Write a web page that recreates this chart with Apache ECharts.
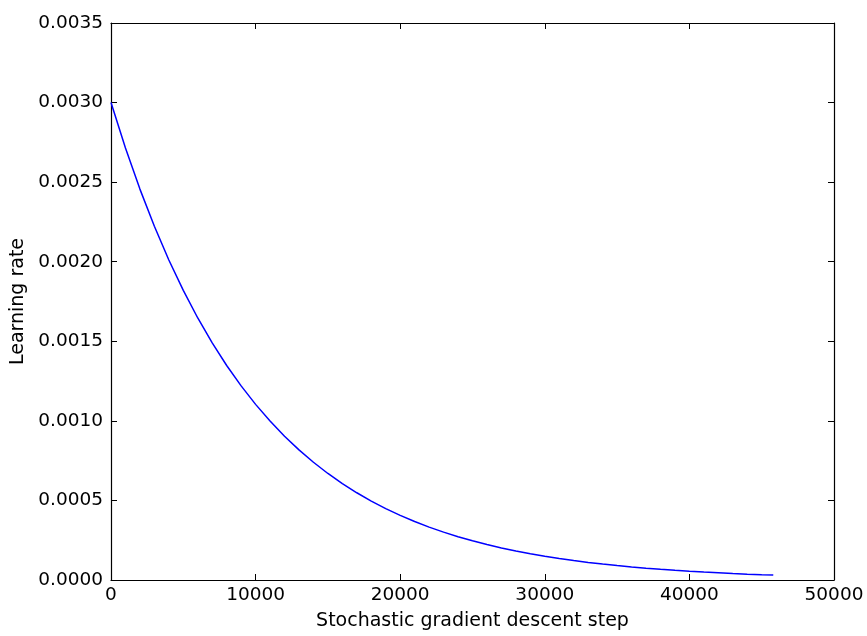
<!DOCTYPE html>
<html>
<head>
<meta charset="utf-8">
<script src="https://cdn.jsdelivr.net/npm/echarts@6/dist/echarts.min.js"></script>
<style>
  html, body { margin: 0; padding: 0; background: #fff; }
  #chart { width: 867px; height: 636px; }
</style>
</head>
<body>
<div id="chart"></div>
<script>
// values
const steps = [0, 1000, 2000, 3000, 4000, 5000, 6000, 7000, 8000, 9000,
  10000, 11000, 12000, 13000, 14000, 15000, 16000, 17000, 18000, 19000,
  20000, 21000, 22000, 23000, 24000, 25000, 26000, 27000, 28000, 29000,
  30000, 31000, 32000, 33000, 34000, 35000, 36000, 37000, 38000, 39000,
  40000, 41000, 42000, 43000, 44000, 45000, 45800]
const rates = [0.0030000, 0.0027145, 0.0024562, 0.0022225, 0.0020110, 0.0018196, 0.0016464, 0.0014898, 0.0013480, 0.0012197,
  0.0011036, 0.0009986, 0.0009036, 0.0008176, 0.0007398, 0.0006694, 0.0006057, 0.0005481, 0.0004959, 0.0004487,
  0.0004060, 0.0003674, 0.0003324, 0.0003008, 0.0002722, 0.0002463, 0.0002228, 0.0002016, 0.0001824, 0.0001651,
  0.0001494, 0.0001351, 0.0001223, 0.0001106, 0.0001001, 0.0000906, 0.0000820, 0.0000742, 0.0000671, 0.0000607,
  0.0000549, 0.0000497, 0.0000450, 0.0000407, 0.0000368, 0.0000333, 0.0000308]

const xTitle = 'Stochastic gradient descent step'
const yTitle = 'Learning rate'

let myChart = echarts.init(document.getElementById('chart'))
let font = 'DejaVu Sans'
let seriesData = []
for (let i = 0; i < steps.length; i++) {
  seriesData.push([steps[i], rates[i]])
}
let axisLine = { show: true, onZero: false, lineStyle: { color: '#000', width: 1.2 } }
let tick = { show: true, inside: true, length: 6, lineStyle: { color: '#000' } }

myChart.setOption({
  animation: false,
  grid: { left: 111, right: 33, top: 23, bottom: 54 },
  xAxis: [{
    type: 'value',
    min: 0,
    max: 50000,
    interval: 10000,
    name: xTitle,
    nameLocation: 'middle',
    nameGap: 32,
    nameTextStyle: { fontFamily: font, fontSize: 19, color: '#000' },
    axisLine: axisLine,
    axisTick: tick,
    splitLine: { show: false },
    axisLabel: { fontFamily: font, fontSize: 18.5, color: '#000', margin: 6, formatter: v => String(v) }
  }, {
    type: 'value',
    position: 'top',
    min: 0,
    max: 50000,
    interval: 10000,
    axisLine: axisLine,
    axisTick: tick,
    splitLine: { show: false },
    axisLabel: { show: false }
  }],
  yAxis: [{
    type: 'value',
    min: 0,
    max: 0.0035,
    interval: 0.0005,
    name: yTitle,
    nameLocation: 'middle',
    nameGap: 83,
    nameTextStyle: { fontFamily: font, fontSize: 19, color: '#000' },
    axisLine: axisLine,
    axisTick: tick,
    splitLine: { show: false },
    axisLabel: {
      fontFamily: font, fontSize: 18.5, color: '#000', margin: 8,
      formatter: v => v.toFixed(4)
    }
  }, {
    type: 'value',
    position: 'right',
    min: 0,
    max: 0.0035,
    interval: 0.0005,
    axisLine: axisLine,
    axisTick: tick,
    splitLine: { show: false },
    axisLabel: { show: false }
  }],
  series: [{
    type: 'line',
    data: seriesData,
    showSymbol: false,
    smooth: false,
    lineStyle: { color: '#0000ff', width: 1.5 }
  }]
})
</script>
</body>
</html>
